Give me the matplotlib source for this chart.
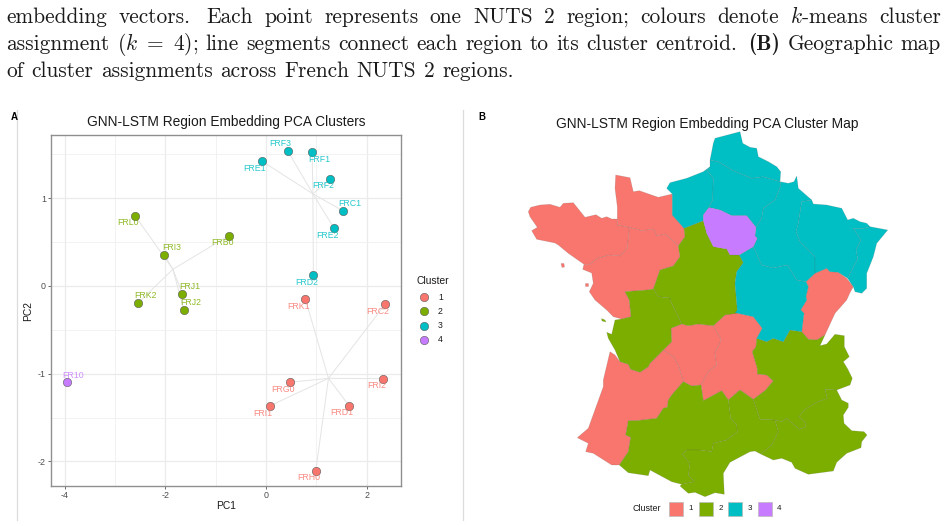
import matplotlib
matplotlib.use('Agg')
import matplotlib.pyplot as plt
from matplotlib.patches import Polygon, Rectangle

plt.rcParams['font.family'] = ['Liberation Sans', 'DejaVu Sans']
plt.rcParams['axes.unicode_minus'] = False
plt.rcParams['mathtext.fontset'] = 'cm'

W, H = 948, 526

# PCA embedding of the NUTS 2 regions
region_ids = ['FRL0', 'FRI3', 'FRB0', 'FRJ1', 'FRK2', 'FRJ2',
              'FRE1', 'FRF3', 'FRF1', 'FRF2', 'FRC1', 'FRE2', 'FRD2',
              'FRK1', 'FRC2', 'FRI2', 'FRG0', 'FRI1', 'FRD1', 'FRH0',
              'FR10']
pc1 = [-2.60, -2.02, -0.735, -1.66, -2.54, -1.63,
       -0.09, 0.43, 0.915, 1.28, 1.53, 1.35, 0.94,
       0.78, 2.366, 2.33, 0.477, 0.073, 1.65, 0.988,
       -3.96]
pc2 = [0.80, 0.357, 0.574, -0.088, -0.194, -0.274,
       1.425, 1.54, 1.525, 1.224, 0.855, 0.658, 0.125,
       -0.148, -0.209, -1.057, -1.098, -1.368, -1.365, -2.106,
       -1.10]
cluster = [2, 2, 2, 2, 2, 2,
           3, 3, 3, 3, 3, 3, 3,
           1, 1, 1, 1, 1, 1, 1,
           4]
centroid_pc1 = {1: 1.24, 2: -1.85, 3: 0.93, 4: -3.96}
centroid_pc2 = {1: -1.053, 2: 0.19, 3: 1.05, 4: -1.10}

# which side of the point each label sits on
label_side_x = [-1, 1, -1, 1, 1, 1,
                -1, -1, 1, -1, 1, -1, -1,
                -1, -1, -1, -1, -1, -1, -1,
                1]
label_side_y = [-1, 1, -1, 1, 1, 1,
                -1, 1, -1, -1, 1, -1, -1,
                -1, -1, -1, -1, -1, -1, -1,
                1]

cluster_ids = [1, 2, 3, 4]
cluster_colors = {1: '#F8766D', 2: '#7CAE00', 3: '#00BFC4', 4: '#C77CFF'}
x_ticks = [-4, -2, 0, 2]
y_ticks = [-2, -1, 0, 1]
x_minor = [-3, -1, 1]
y_minor = [-1.5, -0.5, 0.5, 1.5]

# Region outlines in map units
bretagne = [(528.3, 211.7), (530.7, 207.3), (540, 205), (550, 204.3), (560, 207.3), (563.3, 203.3),
            (573.3, 202.7), (585, 217.3), (596, 214.7), (601.7, 218.3), (606.7, 216.7), (611.7, 219),
            (617.3, 219), (617.3, 225), (629.3, 227.3), (627.3, 248.3), (620, 256), (610, 255),
            (597.3, 258.3), (590, 264.3), (584, 264.3), (568.3, 253.3), (558.3, 245), (555, 243),
            (536.7, 239.3), (531.7, 230.7), (537.3, 227.3), (530, 216.7)]
basse_normandie = [(615.7, 175), (630, 177.7), (633.3, 191.7), (639.3, 190.7), (658.3, 197.3), (672.3, 194),
                   (672.3, 215), (684, 228.3), (685, 236.7), (678.3, 246), (668.3, 236.7), (666, 234),
                   (656.7, 236), (653.3, 229), (641.7, 230.7), (629.3, 227.3), (617.3, 225), (617.3, 206.7),
                   (615, 188.3)]
pays_de_la_loire = [(629.3, 227.3), (641.7, 230.7), (653.3, 229), (656.7, 236), (666, 234), (668.3, 236.7),
                    (678.3, 246), (680, 256.7), (673.3, 266), (660, 270), (653.3, 289), (647.3, 290),
                    (625, 291.7), (629.3, 300), (631, 316.7), (621.7, 319), (613.3, 316.7), (606.7, 310),
                    (595, 300), (589.3, 291.7), (593.3, 283.3), (591.7, 273), (582.7, 269.3), (584, 264.3),
                    (590, 264.3), (597.3, 258.3), (610, 255), (620, 256), (627.3, 248.3)]
centre = [(653.3, 289), (660, 270), (673.3, 266), (680, 256.7), (678.3, 246), (685, 236.7), (684, 228.3),
          (703.3, 220.7), (706.7, 233.3), (713.3, 246.7), (726.7, 249), (730, 255), (739.3, 255),
          (743.3, 262.7), (736.7, 271.7), (735, 283.3), (737.3, 310), (736.7, 313.3), (725, 315),
          (713.3, 325.7), (698.3, 324), (688.3, 325.7), (681.7, 324), (675, 310), (670, 300), (670, 298),
          (658.3, 296.7)]
poitou = [(625, 291.7), (647.3, 290), (653.3, 289), (658.3, 296.7), (670, 298), (670, 300), (675, 310),
          (681.7, 324), (671, 328.3), (671.7, 341.7), (663.3, 350), (650, 363.3), (648.3, 366.7),
          (640, 372.3), (630.7, 369.3), (628.3, 364.3), (620, 361.7), (615, 350), (608.3, 338.3),
          (606.7, 332.3), (611.7, 334.3), (615, 320), (621.7, 319), (631, 316.7), (629.3, 300)]
limousin = [(671, 328.3), (681.7, 324), (688.3, 325.7), (698.3, 324), (713.3, 325.7), (720.7, 338.3),
            (720, 343.3), (715, 352.3), (716.7, 365), (708.3, 371.7), (701, 385), (691.7, 386),
            (683.3, 381.7), (678.3, 365), (673.3, 356.7), (663.3, 350), (671.7, 341.7)]
auvergne = [(713.3, 325.7), (725, 315), (735, 312.7), (753.3, 316.7), (762.3, 328.3), (756.7, 338.3),
            (756, 346.7), (752.3, 351.7), (757.3, 368.3), (757.3, 374), (766.7, 375), (773.3, 381),
            (765, 390.7), (753.3, 399.3), (740, 390), (728.3, 400), (721.7, 390.7), (703.3, 400.7),
            (701, 385), (708.3, 371.7), (716.7, 365), (715, 352.3), (720, 343.3), (720.7, 338.3)]
aquitaine = [(610, 351.7), (615, 355), (620, 361.7), (628.3, 364.3), (630.7, 369.3), (640, 372.3),
             (648.3, 366.7), (650, 363.3), (663.3, 350), (673.3, 356.7), (678.3, 365), (683.3, 381.7),
             (671.7, 395), (668.3, 400), (667.3, 407.3), (663.3, 408.3), (656.7, 418.3), (636.7, 420.7),
             (628.3, 420.7), (625.7, 435), (630.7, 437.3), (628.3, 451.7), (619.3, 465), (611.7, 465),
             (593.3, 453.3), (585.7, 451.7), (588.3, 443.3), (577.3, 437.7), (588.3, 428.3), (603.3, 386.7),
             (603.3, 380)]
midi_pyrenees = [(683.3, 381.7), (691.7, 386), (701, 385), (703.3, 400.7), (721.7, 390.7), (728.3, 400),
                 (730.7, 418.3), (736.7, 425), (737.3, 431.7), (726.7, 440), (713.3, 443.3), (711.7, 451.7),
                 (700, 450), (686.7, 450), (682.3, 454.3), (690, 463.3), (688.3, 475), (694.3, 481.7),
                 (681.7, 484.3), (671.7, 481.7), (650, 470), (648.3, 475.7), (628.3, 472.7), (619.3, 465),
                 (628.3, 451.7), (630.7, 437.3), (625.7, 435), (628.3, 420.7), (636.7, 420.7), (656.7, 418.3),
                 (663.3, 408.3), (667.3, 407.3), (668.3, 400), (671.7, 395)]
languedoc = [(728.3, 400), (740, 390), (753.3, 399.3), (760, 419.3), (775, 420), (778.3, 431.7), (771.7, 445),
             (760.7, 454), (755, 451), (750, 451.7), (730, 462.3), (723.3, 473.3), (724.3, 494.3), (715, 492.7),
             (705, 496.7), (695, 492.3), (688.3, 493.3), (680, 486), (681.7, 484.3), (694.3, 481.7), (688.3, 475),
             (690, 463.3), (682.3, 454.3), (686.7, 450), (700, 450), (711.7, 451.7), (713.3, 443.3), (726.7, 440),
             (737.3, 431.7), (736.7, 425), (730.7, 418.3)]
rhone_alpes = [(756.7, 338.3), (766.7, 341.7), (773.3, 338.3), (783.3, 341.7), (790, 330), (801.7, 331.7),
               (808.3, 339.3), (816.7, 340), (825, 335), (820, 345.7), (826.7, 344), (835, 334.3), (844.3, 335.7),
               (844.3, 346.7), (849.3, 356.7), (843.3, 361.7), (847.7, 369), (852.3, 378.3), (850, 385),
               (836.7, 390), (825, 389.3), (827.3, 398.3), (816.7, 402.3), (805, 409.3), (799, 416.7), (806, 423.3),
               (805, 427.3), (799.3, 429.3), (786.7, 418.3), (781.7, 421.7), (775, 420), (760, 419.3), (753.3, 399.3),
               (765, 390.7), (773.3, 381), (766.7, 375), (757.3, 374), (757.3, 368.3), (752.3, 351.7), (756, 346.7)]
paca = [(836.7, 390), (841.7, 400), (848.3, 403.3), (848.3, 407.3), (843.3, 415), (844, 423.3), (851.7, 430.7),
        (864, 431.7), (867, 435), (861.7, 441.7), (861, 447.7), (846.7, 453.3), (836.7, 462.3), (833.3, 471),
        (808.3, 474.3), (795, 468.3), (791.7, 462.3), (781.7, 458.3), (773.3, 460), (760.7, 454), (771.7, 445),
        (778.3, 431.7), (775, 420), (781.7, 421.7), (786.7, 418.3), (799.3, 429.3), (805, 427.3), (806, 423.3),
        (799, 416.7), (805, 409.3), (816.7, 402.3), (827.3, 398.3), (825, 389.3)]
franche_comte = [(806, 281.7), (815, 273.3), (826.7, 268.3), (830, 271.7), (838.3, 272.3), (846.7, 278.3),
                 (853.3, 286.7), (850, 292.7), (846.7, 300), (835, 313.3), (825, 335), (816.7, 340), (808.3, 339.3),
                 (801.7, 331.7), (804, 313.3), (800.7, 310), (806.7, 300), (806, 296.7), (808.3, 286.7)]
bourgogne = [(739.3, 255), (753.3, 246.7), (761.7, 265), (773, 268), (787.3, 265), (796.7, 280), (806, 281.7),
             (808.3, 286.7), (806, 296.7), (806.7, 300), (800.7, 310), (804, 313.3), (801.7, 331.7), (790, 330),
             (783.3, 341.7), (773.3, 338.3), (766.7, 341.7), (756.7, 338.3), (762.3, 328.3), (753.3, 316.7),
             (735, 312.7), (737.3, 310), (735, 283.3), (736.7, 271.7), (743.3, 262.7)]
haute_normandie = [(672.3, 194), (666.7, 188.3), (670, 182.7), (686.7, 178.3), (703.3, 171.7), (710, 166.7),
                   (710, 168), (706.7, 170), (713.3, 178.3), (712.7, 200), (708.3, 208.3), (703.3, 215),
                   (703.3, 220.7), (684, 228.3), (672.3, 215)]
ile_de_france = [(710, 207.7), (720, 210), (731.7, 215.7), (746.7, 215.7), (756, 227.3), (755, 236), (757.3, 238.3),
                 (753.3, 246.7), (739.3, 255), (730, 255), (726.7, 249), (713.3, 246.7), (706.7, 233.3),
                 (703.3, 220.7), (703.3, 215), (708.3, 208.3)]
picardie = [(710, 160), (718.3, 161.7), (733.3, 170.7), (751.7, 178.3), (763.3, 176.7), (780, 181.7), (781, 185),
            (775, 200), (763.3, 208.3), (761.7, 218.3), (756, 227.3), (746.7, 215.7), (731.7, 215.7), (720, 210),
            (710, 207.7), (708.3, 208.3), (712.7, 200), (713.3, 178.3), (706.7, 170), (710, 168)]
nord = [(715, 138.3), (740, 131.7), (742.7, 143.3), (750, 147.3), (756.7, 148.3), (758.3, 156.7), (768.3, 161.7),
        (776.7, 166.7), (780.7, 171.7), (780, 181.7), (763.3, 176.7), (751.7, 178.3), (733.3, 170.7), (718.3, 161.7),
        (710, 160), (711.7, 151.7), (713.3, 143.3)]
champagne = [(780, 181.7), (788.3, 183.3), (794, 181.7), (796.7, 176), (798.3, 188.3), (811.7, 200), (801.7, 201.7),
             (798.3, 223.3), (796, 231.7), (800, 241.7), (815, 256.7), (815, 265), (815, 273.3), (806, 281.7),
             (796.7, 280), (787.3, 265), (773, 268), (761.7, 265), (753.3, 246.7), (757.3, 238.3), (755, 236),
             (756, 227.3), (761.7, 218.3), (763.3, 208.3), (775, 200), (781, 185)]
lorraine = [(801.7, 201.7), (811.7, 200), (813.3, 204), (826.7, 205), (841.7, 208.3), (847.7, 220), (853.3, 218.3),
            (860, 221.7), (866.7, 223.3), (870, 226.7), (863.3, 228.3), (853.3, 228.3), (861, 240), (856, 250),
            (857.7, 258.3), (847.7, 278.3), (838.3, 272.3), (830, 271.7), (826.7, 268.3), (815, 273.3), (815, 256.7),
            (800, 241.7), (796, 231.7), (798.3, 223.3)]
alsace = [(870, 226.7), (887.7, 230), (876.7, 243.3), (873.3, 256.7), (866.7, 273.3), (866.7, 288.3), (861.7, 293.3),
          (855, 291.7), (853.3, 286.7), (847.7, 278.3), (857.7, 258.3), (856, 250), (861, 240), (853.3, 228.3),
          (863.3, 228.3)]
ile_groix = [(561, 263.5), (564, 263.5), (564.5, 267), (562, 267.5)]
belle_ile = [(585, 282.5), (588, 282.5), (588, 286), (585.5, 286)]
ile_de_re = [(601.5, 318.5), (605, 320), (606, 322), (602, 321)]

map_outlines = [bretagne, basse_normandie, pays_de_la_loire, ile_groix, belle_ile, limousin, auvergne,
                aquitaine, franche_comte,
                centre, poitou, ile_de_re, midi_pyrenees, languedoc, rhone_alpes, paca,
                bourgogne, haute_normandie, picardie, nord, champagne, lorraine, alsace,
                ile_de_france]
map_clusters = [1, 1, 1, 1, 1, 1, 1, 1, 1,
                2, 2, 2, 2, 2, 2, 2,
                3, 3, 3, 3, 3, 3, 3,
                4]

caption_lines = [
    ['embedding', 'vectors.', 'Each', 'point', 'represents', 'one', 'NUTS', '2', 'region;', 'colours',
     'denote', '$k$-means', 'cluster'],
    ['assignment', '$(k\\ =\\ 4)$;', 'line', 'segments', 'connect', 'each', 'region', 'to', 'its', 'cluster',
     'centroid.', '(B)', 'Geographic', 'map'],
    ['of', 'cluster', 'assignments', 'across', 'French', 'NUTS', '2', 'regions.'],
]

fig = plt.figure(figsize=(W / 100, H / 100), dpi=100, facecolor='white')

# Page layer in pixel units, holds the map, legends and caption
page = fig.add_axes([0, 0, 1, 1])
page.set_xlim(0, W)
page.set_ylim(H, 0)
page.axis('off')


def draw_caption(line, baseline, right=None, size=15.4):
    # lay the words out one by one so full lines are justified like the LaTeX source
    renderer = fig.canvas.get_renderer()
    items = []
    for word in line:
        family = 'cmb10' if word == '(B)' else 'cmr10'
        items.append(page.text(6, baseline, word, fontsize=size, family=family, color='#1a1a1a',
                               va='baseline', ha='left'))
    widths = [t.get_window_extent(renderer).width for t in items]
    # TeX leaves more room after a sentence
    weights = [1.45 if w.endswith('.') else 1.0 for w in line[:-1]]
    if right is None:
        gap = size * 100 / 72 * 0.36
    else:
        gap = (right - 6 - sum(widths)) / sum(weights)
    x = 6
    for t, w, weight in zip(items, widths, weights + [0]):
        t.set_x(x)
        x += w + gap * weight


draw_caption(caption_lines[0], 22.7, right=941)
draw_caption(caption_lines[1], 50, right=941)
draw_caption(caption_lines[2], 77.3)

# Panel dividers and tags
page.plot([16.7, 16.7], [110, 520], color='#dcdcdc', lw=0.9)
page.plot([463, 463], [110, 520], color='#dcdcdc', lw=0.9)
page.text(14, 117, 'A', fontsize=7, fontweight='bold', color='black', ha='center', va='center')
page.text(482, 117, 'B', fontsize=7, fontweight='bold', color='black', ha='center', va='center')

# ---------------- Panel A: PCA scatter ----------------
ax = fig.add_axes([51 / W, 1 - 486 / H, 350 / W, 351 / H])
ax.set_xlim(-4.27, 2.68)
ax.set_ylim(-2.28, 1.72)
ax.set_xticks(x_ticks)
ax.set_yticks(y_ticks)
ax.set_xticks(x_minor, minor=True)
ax.set_yticks(y_minor, minor=True)
ax.grid(True, which='major', color='#ebebeb', lw=0.9, zorder=0)
ax.grid(True, which='minor', color='#f0f0f0', lw=0.6, zorder=0)
ax.set_axisbelow(True)
ax.tick_params(which='major', length=2.2, width=0.6, color='#555555', labelcolor='#4d4d4d',
               labelsize=6.4, pad=1.5)
ax.tick_params(which='minor', length=0)
for spine in ax.spines.values():
    spine.set_color('#8f8f8f')
    spine.set_linewidth(1.0)

for x, y, c in zip(pc1, pc2, cluster):
    ax.plot([x, centroid_pc1[c]], [y, centroid_pc2[c]], color='#e4e4e4', lw=0.7, zorder=2)

for c in cluster_ids:
    xs = [x for x, k in zip(pc1, cluster) if k == c]
    ys = [y for y, k in zip(pc2, cluster) if k == c]
    ax.scatter(xs, ys, s=36, color=cluster_colors[c], edgecolor='#5a5a5a', linewidth=0.4, zorder=3)

for name, x, y, c, sx, sy in zip(region_ids, pc1, pc2, cluster, label_side_x, label_side_y):
    ax.annotate(name, (x, y), xytext=(sx * 5, sy * 5.2), textcoords='offset points', fontsize=6.3,
                color=cluster_colors[c], alpha=0.85, ha='center', va='center', zorder=4)

page.text(226, 122, 'GNN-LSTM Region Embedding PCA Clusters', fontsize=9.9, color='#1a1a1a',
          ha='center', va='center')
page.text(226, 506, 'PC1', fontsize=7.4, color='#1a1a1a', ha='center', va='center')
page.text(28, 311, 'PC2', fontsize=7.4, color='#1a1a1a', ha='center', va='center', rotation=90)

# Legend for the scatter
page.text(417, 280.5, 'Cluster', fontsize=7.4, color='#1a1a1a', ha='left', va='center')
for i, c in enumerate(cluster_ids):
    page.scatter([424], [297.3 + i * 14.1], s=36, color=cluster_colors[c], edgecolor='#5a5a5a', linewidth=0.4)
    page.text(438, 297.3 + i * 14.1, str(c), fontsize=6.2, color='#1a1a1a', ha='left', va='center')

# ---------------- Panel B: cluster map ----------------
for outline, c in zip(map_outlines, map_clusters):
    page.add_patch(Polygon(outline, closed=True, facecolor=cluster_colors[c],
                           edgecolor=(0.35, 0.35, 0.35, 0.22), linewidth=0.45, zorder=2))

page.text(707.5, 124, 'GNN-LSTM Region Embedding PCA Cluster Map', fontsize=9.9, color='#1a1a1a',
          ha='center', va='center')

page.text(633, 508.7, 'Cluster', fontsize=6.4, color='#1a1a1a', ha='left', va='center')
for i, c in enumerate(cluster_ids):
    key_x = 669.5 + i * 29.45
    page.add_patch(Rectangle((key_x, 501.5), 14, 14, facecolor=cluster_colors[c],
                             edgecolor='#bbbbbb', linewidth=0.5, zorder=2))
    page.text(key_x + 21.5, 508.7, str(c), fontsize=5.8, color='#1a1a1a', ha='center', va='center')

fig.savefig('out.png', dpi=100, facecolor='white')
